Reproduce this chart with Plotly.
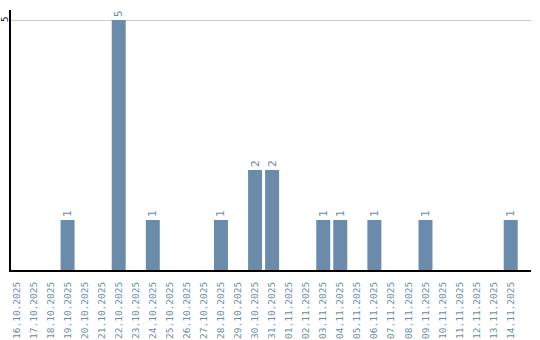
import plotly.graph_objects as go

dates = ["16.10.2025","17.10.2025","18.10.2025","19.10.2025","20.10.2025","21.10.2025",
         "22.10.2025","23.10.2025","24.10.2025","25.10.2025","26.10.2025","27.10.2025",
         "28.10.2025","29.10.2025","30.10.2025","31.10.2025","01.11.2025","02.11.2025",
         "03.11.2025","04.11.2025","05.11.2025","06.11.2025","07.11.2025","08.11.2025",
         "09.11.2025","10.11.2025","11.11.2025","12.11.2025","13.11.2025","14.11.2025"]
counts = [0,0,0,1,0,0,5,0,1,0,0,0,1,0,2,2,0,0,1,1,0,1,0,0,1,0,0,0,0,1]
y_ticks = [5]

bar_color = "#6a8caa"
font_family = "DejaVu Sans Mono"

fig = go.Figure(go.Bar(
    x=list(range(len(dates))),
    y=counts,
    width=0.82,
    marker=dict(color=bar_color, line=dict(width=0)),
    text=[str(c) if c > 0 else "" for c in counts],
    textposition="outside",
    textangle=-90,
    textfont=dict(family=font_family, size=11, color=bar_color),
    cliponaxis=False,
))

fig.update_layout(
    width=540, height=340,
    margin=dict(l=11, r=9, t=10, b=70),
    paper_bgcolor="white", plot_bgcolor="white",
    showlegend=False,
    bargap=0.18,
)
fig.update_xaxes(
    range=[-0.32, 30.19],
    tickmode="array", tickvals=list(range(len(dates))), ticktext=dates,
    tickangle=-90,
    tickfont=dict(family=font_family, size=9.5, color=bar_color),
    showline=True, linecolor="black", linewidth=2,
    showgrid=False, ticks="", zeroline=False,
    automargin=False, ticklabelstandoff=6,
)
fig.update_yaxes(
    range=[0, 5.2],
    tickmode="array", tickvals=y_ticks, ticktext=[""] * len(y_ticks),
    showline=True, linecolor="black", linewidth=2,
    showgrid=True, gridcolor="#cccccc", gridwidth=1,
    ticks="", zeroline=False,
    automargin=False,
)
for t in y_ticks:
    fig.add_annotation(
        x=0, xref="paper", y=t, yref="y",
        text=str(t), showarrow=False, textangle=-90,
        xanchor="center", yanchor="middle", xshift=-6,
        font=dict(family=font_family, size=9, color="black"),
    )

fig.write_html("out.html")
